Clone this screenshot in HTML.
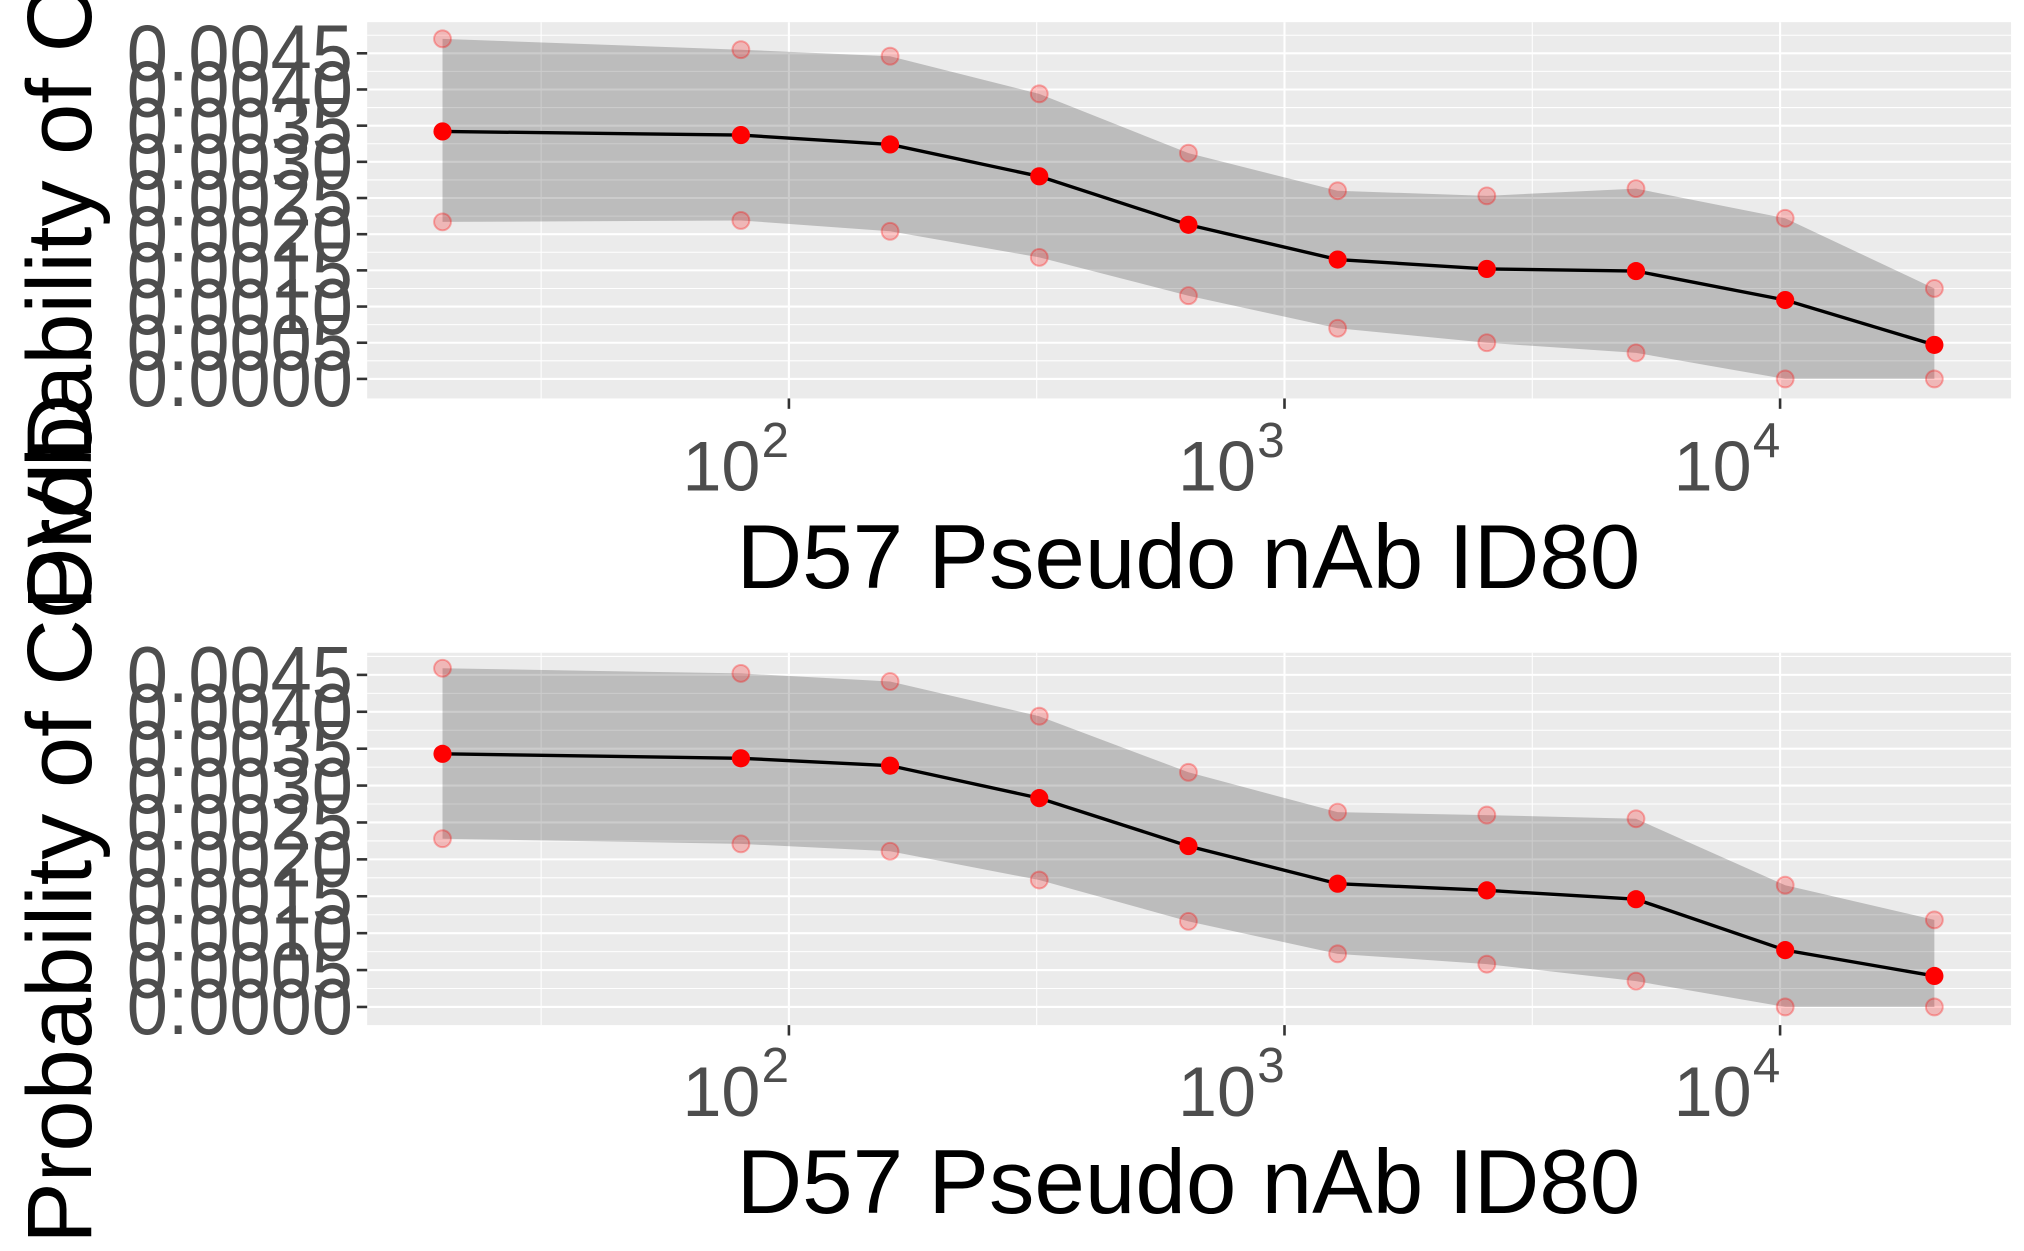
<!DOCTYPE html>
<html><head><meta charset="utf-8"><style>
html,body{margin:0;padding:0;background:#fff;overflow:hidden;}
svg{display:block;font-family:"Liberation Sans",Arial,sans-serif;}
</style></head><body>
<svg id="chart" width="2024" height="1251" viewBox="0 0 1560 964" xmlns="http://www.w3.org/2000/svg" overflow="hidden"></svg>
<script>
const xValues = [20, 80, 160, 320, 640, 1280, 2560, 5120, 10240, 20480];
const topMean = [0.00342, 0.00337, 0.00324, 0.0028, 0.00213, 0.00165, 0.00152, 0.00149, 0.00109, 0.00047];
const topUpper = [0.0047, 0.00455, 0.00446, 0.00394, 0.00312, 0.0026, 0.00253, 0.00263, 0.00222, 0.00125];
const topLower = [0.00217, 0.00219, 0.00204, 0.00168, 0.00115, 0.0007, 0.0005, 0.00036, 0, 0];
const botMean = [0.00343, 0.00337, 0.00327, 0.00283, 0.00218, 0.00167, 0.00158, 0.00146, 0.00077, 0.00042];
const botUpper = [0.00459, 0.00452, 0.00441, 0.00394, 0.00318, 0.00264, 0.0026, 0.00255, 0.00165, 0.00118];
const botLower = [0.00228, 0.00221, 0.00211, 0.00172, 0.00116, 0.00072, 0.00058, 0.00035, 0, 0];
const yTicks = [0, 0.0005, 0.001, 0.0015, 0.002, 0.0025, 0.003, 0.0035, 0.004, 0.0045];
const yTickLabels = ["0.0000","0.0005","0.0010","0.0015","0.0020","0.0025","0.0030","0.0035","0.0040","0.0045"];
const xTickExps = [2, 3, 4];

const NS = "http://www.w3.org/2000/svg";
const svg = document.getElementById('chart');
function mk(tag, attrs, parent) {
  const e = document.createElementNS(NS, tag);
  for (const k in attrs) e.setAttribute(k, attrs[k]);
  (parent || svg).appendChild(e);
  return e;
}
const L = 283, R = 1550, lx0 = 1.149, lx1 = 4.466;
function xs(v) { return L + (Math.log10(v) - lx0) / (lx1 - lx0) * (R - L); }

function panel(name, top, bottom, y0, y1, mean, upper, lower, tickLabelY, titleY, ytitleCY) {
  const ys = v => bottom - (v - y0) / (y1 - y0) * (bottom - top);
  const g = mk('g', {});
  
  
  const bg = mk('rect', {x: L, y: top, width: R - L, height: bottom - top, fill: '#ebebeb'}, g);
  
  
  for (let i = 0; i < yTicks.length; i++) {
    const m = yTicks[i] + 0.00025;
    if (m < y1) mk('line', {x1: L, x2: R, y1: ys(m), y2: ys(m), stroke: '#fff', 'stroke-width': 0.8}, g);
  }
  for (const e of [1.5, 2.5, 3.5]) {
    const x = xs(Math.pow(10, e));
    mk('line', {x1: x, x2: x, y1: top, y2: bottom, stroke: '#fff', 'stroke-width': 0.8}, g);
  }
  yTicks.forEach(t => mk('line', {x1: L, x2: R, y1: ys(t), y2: ys(t), stroke: '#fff', 'stroke-width': 1.6}, g));
  xTickExps.forEach(e => { const x = xs(Math.pow(10, e)); mk('line', {x1: x, x2: x, y1: top, y2: bottom, stroke: '#fff', 'stroke-width': 1.6}, g); });
  let pts = xValues.map((v, i) => xs(v) + ',' + ys(upper[i]));
  pts = pts.concat(xValues.map((v, i) => xs(v) + ',' + ys(lower[i])).reverse());
  const rib = mk('polygon', {points: pts.join(' '), fill: '#000', 'fill-opacity': 0.2}, g);
  
  
  [upper, lower].forEach((arr, k) => arr.forEach((v, i) => {
    const c = mk('circle', {cx: xs(xValues[i]), cy: ys(v), r: 6.5, fill: '#ff0000', 'fill-opacity': 0.22, stroke: '#ff0000', 'stroke-opacity': 0.3, 'stroke-width': 1.5}, g);
    
    
  }));
  const line = mk('polyline', {points: xValues.map((v, i) => xs(v) + ',' + ys(mean[i])).join(' '), fill: 'none', stroke: '#000', 'stroke-width': 2.6}, g);
  
  
  mean.forEach((v, i) => {
    const c = mk('circle', {cx: xs(xValues[i]), cy: ys(v), r: 7, fill: '#ff0000'}, g);
    
    
  });
  yTicks.forEach((t, i) => {
    mk('line', {x1: L - 8, x2: L, y1: ys(t), y2: ys(t), stroke: '#333', 'stroke-width': 2}, g);
    const tx = mk('text', {x: 0, y: 0, 'text-anchor': 'end', 'font-size': 57, fill: '#4d4d4d', transform: 'translate(272,' + (ys(t) + 21) + ') scale(1,1.08)'}, g);
    tx.textContent = yTickLabels[i];
    
    
  });
  xTickExps.forEach(e => {
    const x = xs(Math.pow(10, e));
    mk('line', {x1: x, x2: x, y1: bottom, y2: bottom + 8, stroke: '#333', 'stroke-width': 2}, g);
    const tx = mk('text', {x: x - 22, y: tickLabelY, 'text-anchor': 'end', 'font-size': 54, fill: '#4d4d4d'}, g);
    tx.textContent = '10';
    
    
    const sup = mk('text', {x: x - 21, y: tickLabelY - 26, 'text-anchor': 'start', 'font-size': 38, fill: '#4d4d4d'}, g);
    sup.textContent = String(e);
  });
  const xt = mk('text', {x: 916, y: titleY, 'text-anchor': 'middle', 'font-size': 70, fill: '#000'}, g);
  xt.textContent = 'D57 Pseudo nAb ID80';
  
  
  const yt = mk('text', {x: 0, y: 0, 'text-anchor': 'middle', 'font-size': 71, fill: '#000', transform: 'translate(70,' + ytitleCY + ') rotate(-90)'}, g);
  yt.textContent = 'Probability of COVID';
  
  
}
panel('top-panel', 17, 307, -0.00027, 0.00493, topMean, topUpper, topLower, 378, 453, 143);
panel('bottom-panel', 503, 790, -0.000246, 0.0048, botMean, botUpper, botLower, 860, 935, 631);
</script>
</body></html>
